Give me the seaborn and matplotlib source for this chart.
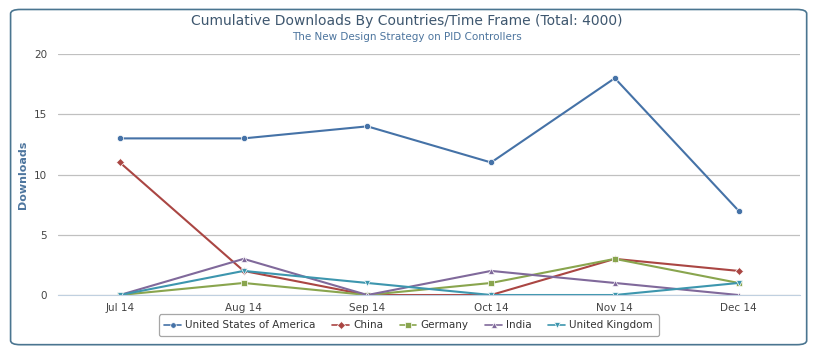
import seaborn as sns
import matplotlib.pyplot as plt
import pandas as pd
import numpy as np
from matplotlib.patches import FancyBboxPatch

months = ["Jul 14", "Aug 14", "Sep 14", "Oct 14", "Nov 14", "Dec 14"]
countries = ["United States of America", "China", "Germany", "India", "United Kingdom"]
usa = [13, 13, 14, 11, 18, 7]
china = [11, 2, 0, 0, 3, 2]
germany = [0, 1, 0, 1, 3, 1]
india = [0, 3, 0, 2, 1, 0]
uk = [0, 2, 1, 0, 0, 1]

colors = ["#4572A7", "#AA4643", "#89A54E", "#80699B", "#3D96AE"]
marks = ["o", "D", "s", "^", "v"]

rows = []
for c, vals in zip(countries, [usa, china, germany, india, uk]):
    for i, v in enumerate(vals):
        rows.append({"Country": c, "idx": i, "Downloads": v})
df = pd.DataFrame(rows)

sns.set_style("white")
plt.rcParams["font.family"] = ["DejaVu Sans"]

fig = plt.figure(figsize=(8.14, 3.51), dpi=100)
ax = fig.add_axes([0.0713, 0.1595, 0.912, 0.6865])

sns.lineplot(data=df, x="idx", y="Downloads", hue="Country", style="Country",
             palette=dict(zip(countries, colors)),
             markers=dict(zip(countries, marks)), dashes=False,
             markersize=4.5, linewidth=1.5, markeredgecolor="white",
             markeredgewidth=0.5, ax=ax, legend=True)

ax.set_xlim(-0.5, 5.5)
ax.set_ylim(0, 20)
ax.set_yticks([0, 5, 10, 15, 20])
ax.set_xticks(range(6))
ax.set_xticklabels(months)
ax.set_xticks(np.arange(0.5, 5.6, 1), minor=True)
ax.tick_params(axis="x", which="major", length=0, labelsize=7.5, labelcolor="#444444", pad=6)
ax.tick_params(axis="x", which="minor", length=5, color="#C0D0E0", direction="out")
ax.tick_params(axis="y", length=0, labelsize=7.5, labelcolor="#444444", pad=8)
ax.yaxis.grid(True, color="#C0C0C0", linewidth=0.9)
ax.set_axisbelow(True)
for s in ["top", "right", "left"]:
    ax.spines[s].set_visible(False)
ax.spines["bottom"].set_color("#C0D0E0")
ax.set_xlabel("")
ax.set_ylabel("Downloads", fontsize=8, fontweight="bold", color="#4D759E")
ax.yaxis.set_label_coords(-0.041, 0.5)

fig.text(0.5, 0.94, "Cumulative Downloads By Countries/Time Frame (Total: 4000)",
         ha="center", va="center", fontsize=10, color="#3E576F")
fig.text(0.5, 0.895, "The New Design Strategy on PID Controllers",
         ha="center", va="center", fontsize=7.5, color="#4D759E")

handles, labels = ax.get_legend_handles_labels()
leg = ax.legend(handles, labels, loc="center", ncol=5, fontsize=7.5,
                frameon=True, fancybox=True, handlelength=1.6, columnspacing=1.6,
                handletextpad=0.4, borderpad=0.55, labelcolor="#333333")
leg.set_bbox_to_anchor((0.502, 0.0735), transform=fig.transFigure)
leg.get_frame().set_edgecolor("#909090")
leg.get_frame().set_linewidth(0.9)
for h in leg.legend_handles:
    h.set_linewidth(1.2)
    h.set_markersize(4)

border = FancyBboxPatch((0.013, 0.018), 0.978, 0.955, boxstyle="round,pad=0,rounding_size=0.012",
                        transform=fig.transFigure, fill=False, edgecolor="#4A7590",
                        linewidth=1.2)
fig.patches.append(border)

fig.savefig("out.png", dpi=100)
